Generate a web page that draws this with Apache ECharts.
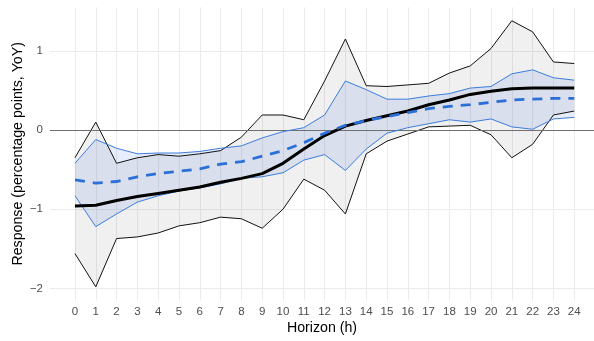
<!DOCTYPE html>
<html>
<head>
<meta charset="utf-8">
<script src="https://cdn.jsdelivr.net/npm/echarts@6/dist/echarts.min.js"></script>
<style>
html,body{margin:0;padding:0;background:#fff;}
#chart{width:594px;height:341px;}
</style>
</head>
<body>
<div id="chart"></div>
<script>
const horizon = [0,1,2,3,4,5,6,7,8,9,10,11,12,13,14,15,16,17,18,19,20,21,22,23,24];
const xTicks = [0,1,2,3,4,5,6,7,8,9,10,11,12,13,14,15,16,17,18,19,20,21,22,23,24];
const yTicks = [-2,-1,0,1];

const blackUpper = [-0.35, 0.10, -0.42, -0.35, -0.31, -0.33, -0.30, -0.26, -0.09, 0.19, 0.19, 0.13, 0.62, 1.15, 0.56, 0.55, 0.57, 0.59, 0.72, 0.81, 1.03, 1.38, 1.24, 0.86, 0.84];
const blackLower = [-1.56, -1.98, -1.37, -1.35, -1.30, -1.21, -1.17, -1.10, -1.12, -1.24, -1.00, -0.62, -0.76, -1.06, -0.30, -0.14, -0.05, 0.04, 0.05, 0.06, -0.06, -0.35, -0.18, 0.19, 0.24];
const blackMid = [-0.96, -0.95, -0.89, -0.84, -0.80, -0.76, -0.72, -0.66, -0.61, -0.55, -0.42, -0.24, -0.07, 0.05, 0.12, 0.18, 0.24, 0.32, 0.38, 0.45, 0.49, 0.52, 0.53, 0.53, 0.53];
const blueUpper = [-0.42, -0.12, -0.23, -0.30, -0.29, -0.29, -0.27, -0.23, -0.20, -0.10, -0.02, 0.03, 0.19, 0.62, 0.51, 0.39, 0.39, 0.43, 0.46, 0.53, 0.55, 0.71, 0.76, 0.66, 0.63];
const blueLower = [-0.83, -1.22, -1.06, -0.91, -0.83, -0.77, -0.73, -0.68, -0.61, -0.59, -0.54, -0.38, -0.31, -0.51, -0.24, -0.04, 0.03, 0.08, 0.13, 0.10, 0.14, 0.04, 0.01, 0.14, 0.16];
const blueMid = [-0.63, -0.67, -0.65, -0.59, -0.55, -0.52, -0.49, -0.43, -0.40, -0.33, -0.26, -0.16, -0.04, 0.06, 0.12, 0.17, 0.22, 0.27, 0.30, 0.32, 0.35, 0.38, 0.39, 0.40, 0.40];

const FONT = 'Liberation Sans, Arial, sans-serif';
const pts = arr => horizon.map((h, i) => [h, arr[i]]);

function bandSeries(upper, lower, fill, z) {
  return {
    type: 'custom',
    z: z,
    silent: true,
    data: [0],
    clip: true,
    renderItem: function (params, api) {
      const top = horizon.map((h, i) => api.coord([h, upper[i]]));
      const bot = horizon.map((h, i) => api.coord([h, lower[i]])).reverse();
      return {
        type: 'polygon',
        shape: { points: top.concat(bot) },
        style: { fill: fill, stroke: null }
      };
    },
    encode: { x: -1, y: -1 }
  };
}

function lineSeries(arr, color, width, type, z) {
  return {
    type: 'line',
    data: pts(arr),
    showSymbol: false,
    symbol: 'none',
    silent: true,
    z: z,
    lineStyle: { color: color, width: width, type: type || 'solid', cap: 'butt', join: 'round' }
  };
}

const chart = echarts.init(document.getElementById('chart'), null, { renderer: 'canvas' });
chart.setOption({
  animation: false,
  backgroundColor: '#ffffff',
  grid: { left: 50, top: 7.3, right: 0, bottom: 40.7, containLabel: false, outerBoundsMode: 'none' },
  xAxis: {
    type: 'value',
    min: -1.2,
    max: 24.95,
    name: 'Horizon (h)',
    nameLocation: 'middle',
    nameGap: 20.5,
    nameMoveOverlap: false,
    nameTextStyle: { fontFamily: FONT, fontSize: 14.2, color: '#000' },
    axisLine: { show: false },
    axisTick: { show: false, customValues: xTicks },
    axisLabel: { customValues: xTicks, fontFamily: FONT, fontSize: 11.5, color: '#4d4d4d', margin: 6 },
    splitLine: { show: true, lineStyle: { color: '#ebebeb', width: 1 } }
  },
  yAxis: {
    type: 'value',
    min: -2.15,
    max: 1.55,
    name: 'Response (percentage points, YoY)',
    nameLocation: 'middle',
    nameGap: 25,
    nameMoveOverlap: false,
    nameTextStyle: { fontFamily: FONT, fontSize: 14.2, color: '#000' },
    axisLine: { show: false },
    axisTick: { show: false, customValues: yTicks },
    axisLabel: {
      customValues: yTicks, fontFamily: FONT, fontSize: 11.5, color: '#4d4d4d', margin: 7,
      formatter: v => (v < 0 ? '\u2212' + Math.abs(v) : String(v))
    },
    splitLine: { show: true, lineStyle: { color: '#ebebeb', width: 1 } }
  },
  series: [
    bandSeries(blackUpper, blackLower, 'rgba(0,0,0,0.06)', 1),
    bandSeries(blueUpper, blueLower, 'rgba(58,110,214,0.12)', 2),
    {
      type: 'line', data: [], z: 3, silent: true,
      markLine: {
        silent: true, symbol: 'none', label: { show: false },
        lineStyle: { color: '#707070', width: 1, type: 'solid' },
        data: [{ yAxis: 0 }]
      }
    },
    lineSeries(blackUpper, '#111111', 1, 'solid', 4),
    lineSeries(blackLower, '#111111', 1, 'solid', 4),
    lineSeries(blueUpper, '#3b7ddd', 1, 'solid', 5),
    lineSeries(blueLower, '#3b7ddd', 1, 'solid', 5),
    lineSeries(blackMid, '#000000', 3, 'solid', 6),
    lineSeries(blueMid, '#2b6fd8', 2.8, [10, 8], 7)
  ]
});
</script>
</body>
</html>
